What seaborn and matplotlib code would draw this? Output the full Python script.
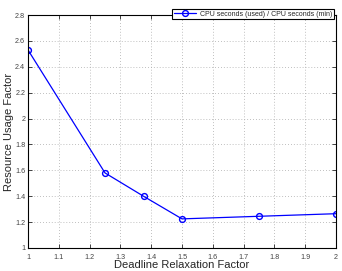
import pandas as pd
import numpy as np
import matplotlib.pyplot as plt
import seaborn as sns

# values
relaxation = [1.0, 1.25, 1.375, 1.5, 1.75, 2.0]
usage = [2.53, 1.58, 1.40, 1.225, 1.245, 1.265]
x_ticks = [1, 1.1, 1.2, 1.3, 1.4, 1.5, 1.6, 1.7, 1.8, 1.9, 2]
y_ticks = [1, 1.2, 1.4, 1.6, 1.8, 2, 2.2, 2.4, 2.6, 2.8]

sns.set_style("ticks")
plt.rcParams["font.family"] = ["Liberation Sans", "DejaVu Sans"]

df = pd.DataFrame({"x": relaxation, "y": usage})

fig = plt.figure(figsize=(3.42, 2.71), dpi=100)
ax = fig.add_axes([28 / 342, 1 - 248 / 271, (336 - 28) / 342, (248 - 15) / 271])

sns.lineplot(data=df, x="x", y="y", ax=ax, color="#0000ff", linewidth=0.9,
             marker="o", markersize=4.2, markerfacecolor="none",
             markeredgecolor="#0000ff", markeredgewidth=1.0,
             label="CPU seconds (used) / CPU seconds (min)")

ax.set_xlim(1, 2)
ax.set_ylim(1, 2.8)
ax.set_xticks(x_ticks)
ax.set_yticks(y_ticks)
ax.set_xticklabels([f"{v:g}" for v in x_ticks], fontsize=5.2, color="#444444")
ax.set_yticklabels([f"{v:g}" for v in y_ticks], fontsize=5.2, color="#444444")
ax.tick_params(axis="y", direction="in", length=3, width=0.6, right=True, pad=2)
ax.tick_params(axis="x", direction="in", length=3, width=0.6, top=True, pad=4)
ax.grid(True, linestyle=(0, (1, 2.5)), color="#aaaaaa", linewidth=0.6)
for s in ax.spines.values():
    s.set_linewidth(0.8)
    s.set_color("black")

ax.set_xlabel("Deadline Relaxation Factor", fontsize=8)
ax.set_ylabel("Resource Usage Factor", fontsize=8)
ax.xaxis.set_label_coords(0.5, -(265 - 248) / 233, transform=ax.transAxes)
ax.yaxis.set_label_coords(-(28 - 9) / 308, 0.5, transform=ax.transAxes)
ax.xaxis.label.set_va("center")
ax.yaxis.label.set_va("center")

leg = ax.legend(loc="upper right", fontsize=5.0, frameon=True, fancybox=False,
                borderpad=0.25, handlelength=3.2, handletextpad=0.5,
                bbox_to_anchor=(334 / 342, 1 - 9 / 271),
                bbox_transform=fig.transFigure, borderaxespad=0)
leg.get_frame().set_edgecolor("black")
leg.get_frame().set_linewidth(0.8)
leg.get_frame().set_alpha(1)

fig.savefig("out.png", dpi=100)
